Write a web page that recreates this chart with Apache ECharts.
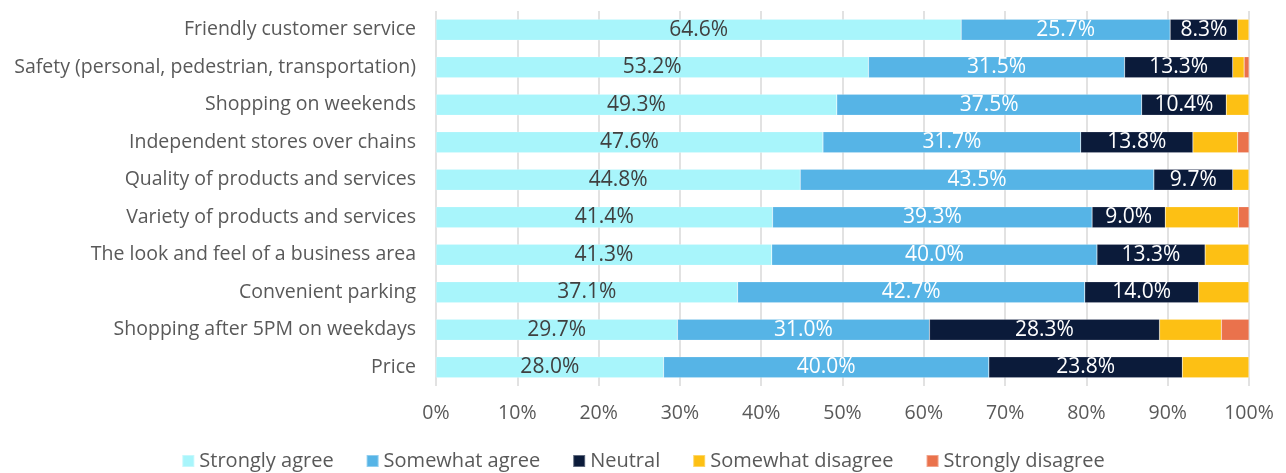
<!DOCTYPE html>
<html>
<head>
<meta charset="utf-8">
<script src="https://cdn.jsdelivr.net/npm/echarts@6/dist/echarts.min.js"></script>
<style>
  html, body { margin: 0; padding: 0; background: #fff; }
  #chart { width: 1286px; height: 473px; }
</style>
</head>
<body>
<div id="chart"></div>
<script>
// categories listed top to bottom
const categories = [
  "Friendly customer service",
  "Safety (personal, pedestrian, transportation)",
  "Shopping on weekends",
  "Independent stores over chains",
  "Quality of products and services",
  "Variety of products and services",
  "The look and feel of a business area",
  "Convenient parking",
  "Shopping after 5PM on weekdays",
  "Price"
];
const stronglyAgree = [64.6, 53.2, 49.3, 47.6, 44.8, 41.4, 41.3, 37.1, 29.7, 28.0];
const somewhatAgree = [25.7, 31.5, 37.5, 31.7, 43.5, 39.3, 40.0, 42.7, 31.0, 40.0];
const neutral = [8.3, 13.3, 10.4, 13.8, 9.7, 9.0, 13.3, 14.0, 28.3, 23.8];
const somewhatDisagree = [1.4, 1.4, 2.8, 5.5, 2.0, 9.0, 5.4, 6.2, 7.6, 8.2];
const stronglyDisagree = [0, 0.6, 0, 1.4, 0, 1.3, 0, 0, 3.4, 0];
const seriesNames = ["Strongly agree", "Somewhat agree", "Neutral", "Somewhat disagree", "Strongly disagree"];
const xTicks = [0, 10, 20, 30, 40, 50, 60, 70, 80, 90, 100];

const colors = ["#A8F5FB", "#56B4E6", "#0B1B3A", "#FDC014", "#EA724C"];
const labelColors = ["#404040", "#ffffff", "#ffffff", null, null];
const font = "'Open Sans', 'Noto Sans', sans-serif";

const chart = echarts.init(document.getElementById("chart"));

const allData = [stronglyAgree, somewhatAgree, neutral, somewhatDisagree, stronglyDisagree];
const series = seriesNames.map((name, i) => ({
  name,
  type: "bar",
  stack: "total",
  barWidth: 21,
  data: allData[i].slice().reverse(),
  itemStyle: { color: colors[i], borderColor: "rgba(255,255,255,0.35)", borderWidth: 0.5 },
  label: {
    show: labelColors[i] !== null,
    position: "inside",
    color: labelColors[i] || "#fff",
    fontFamily: font,
    fontSize: 21,
    formatter: (p) => p.value.toFixed(1) + "%"
  }
}));

chart.setOption({
  animation: false,
  color: colors,
  grid: { left: 436, right: 37, top: 11, bottom: 87 },
  xAxis: {
    type: "value",
    min: 0,
    max: 100,
    interval: 10,
    axisLine: { show: false },
    axisTick: { show: false },
    splitLine: { show: true, lineStyle: { color: "#d9d9d9", width: 1.5 } },
    axisLabel: {
      margin: 17,
      color: "#595959",
      fontFamily: font,
      fontSize: 19.5,
      formatter: (v) => xTicks.includes(v) ? v + "%" : ""
    }
  },
  yAxis: {
    type: "category",
    data: categories.slice().reverse(),
    axisLine: { show: false },
    axisTick: { show: false },
    axisLabel: { color: "#595959", fontFamily: font, fontSize: 19.5, margin: 20 }
  },
  legend: {
    bottom: -3,
    left: "center",
    itemWidth: 12,
    itemHeight: 12,
    itemGap: 32,
    icon: "rect",
    textStyle: { color: "#595959", fontFamily: font, fontSize: 20 },
    data: seriesNames
  },
  series
});
</script>
</body>
</html>
